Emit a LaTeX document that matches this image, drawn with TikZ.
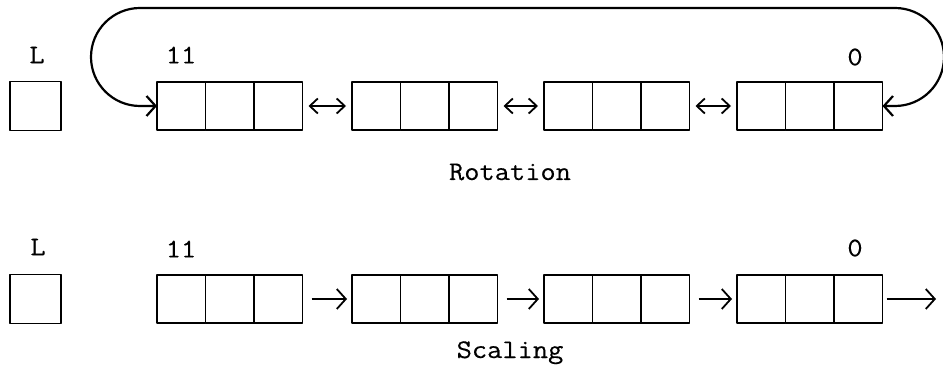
\documentclass[tikz,border=0pt]{standalone}
\usepackage{fontspec}
\setmonofont{Latin Modern Mono}[FakeStretch=1.1,FakeBold=0.3]
\usetikzlibrary{arrows.meta}
\begin{document}
\begin{tikzpicture}[>={Straight Barb[length=9bp,width=20bp]},line join=bevel,
  cell/.style={draw,line width=1.8bp,minimum width=48.5bp,minimum height=48bp,inner sep=0pt,outer sep=0pt},
  lbl/.style={font=\ttfamily\fontsize{27}{30}\selectfont,inner sep=0pt},
  link/.style={black,line width=1.8bp,shorten <=6bp,shorten >=6bp},
  loop/.style={black,line width=2.2bp},
]
\useasboundingbox (0bp,0bp) rectangle (943bp,371bp);
%% rotation
\node (rot_L) at (35.5bp,265bp) [cell,minimum width=51bp,minimum height=49bp] {};
  \node (rot_0) at (181.25bp,265bp) [cell] {};
  \node (rot_1) at (229.75bp,265bp) [cell] {};
  \node (rot_2) at (278.25bp,265bp) [cell] {};
  \node (rot_3) at (376.25bp,265bp) [cell] {};
  \node (rot_4) at (424.75bp,265bp) [cell] {};
  \node (rot_5) at (473.25bp,265bp) [cell] {};
  \node (rot_6) at (568.25bp,265bp) [cell] {};
  \node (rot_7) at (616.75bp,265bp) [cell] {};
  \node (rot_8) at (665.25bp,265bp) [cell] {};
  \node (rot_9) at (761.25bp,265bp) [cell] {};
  \node (rot_10) at (809.75bp,265bp) [cell] {};
  \node (rot_11) at (858.25bp,265bp) [cell] {};
  \node (rot_txtL) at (37bp,316bp) [lbl] {L};
  \node (rot_txt11) at (181bp,316bp) [lbl] {11};
  \node (rot_txt0) at (855bp,314bp) [lbl] {0};
  \node (rot_name) at (510bp,191bp) [lbl,anchor=base] {Rotation};
  \draw [link,{Straight Barb[length=8bp,width=15bp]}-{Straight Barb[length=8bp,width=15bp]}] (rot_2) -- (rot_3);
  \draw [link,{Straight Barb[length=8bp,width=15bp]}-{Straight Barb[length=8bp,width=15bp]}] (rot_5) -- (rot_6);
  \draw [link,{Straight Barb[length=8bp,width=15bp]}-{Straight Barb[length=8bp,width=15bp]}] (rot_8) -- (rot_9);
  \draw [loop,<->] (rot_11.east) -- ++(12.5bp,0bp) arc [start angle=-90,end angle=90,radius=49bp]
    -- ++(-755bp,0bp) arc [start angle=90,end angle=270,radius=49bp] -- (rot_0.west);
%% scaling
\node (scl_L) at (35.5bp,72bp) [cell,minimum width=51bp,minimum height=49bp] {};
  \node (scl_0) at (181.25bp,72bp) [cell] {};
  \node (scl_1) at (229.75bp,72bp) [cell] {};
  \node (scl_2) at (278.25bp,72bp) [cell] {};
  \node (scl_3) at (376.25bp,72bp) [cell] {};
  \node (scl_4) at (424.75bp,72bp) [cell] {};
  \node (scl_5) at (473.25bp,72bp) [cell] {};
  \node (scl_6) at (568.25bp,72bp) [cell] {};
  \node (scl_7) at (616.75bp,72bp) [cell] {};
  \node (scl_8) at (665.25bp,72bp) [cell] {};
  \node (scl_9) at (761.25bp,72bp) [cell] {};
  \node (scl_10) at (809.75bp,72bp) [cell] {};
  \node (scl_11) at (858.25bp,72bp) [cell] {};
  \coordinate (scl_out) at (936bp,72bp);
  \node (scl_txtL) at (38bp,124bp) [lbl] {L};
  \node (scl_txt11) at (181bp,122bp) [lbl] {11};
  \node (scl_txt0) at (855bp,123bp) [lbl] {0};
  \node (scl_name) at (510bp,13bp) [lbl,anchor=base] {Scaling};
  \draw [link,->,shorten <=9bp,shorten >=5bp] (scl_2) -- (scl_3);
  \draw [link,->,shorten <=9bp,shorten >=5bp] (scl_5) -- (scl_6);
  \draw [link,->,shorten <=9bp,shorten >=5bp] (scl_8) -- (scl_9);
  \draw [link,->,shorten <=4bp,shorten >=0bp] (scl_11) -- (scl_out);
%
\end{tikzpicture}
\end{document}
